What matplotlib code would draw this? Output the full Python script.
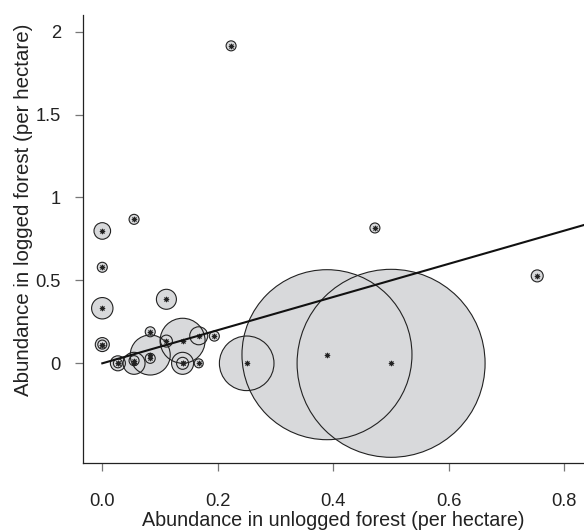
import matplotlib
matplotlib.use("Agg")
import matplotlib.pyplot as plt
import numpy as np

plt.rcParams['font.family'] = ['Liberation Sans', 'DejaVu Sans']

# Abundance in unlogged forest (x) and logged forest (y), per hectare
x_unlogged = [0.223, 0.472, 0.753, 0.0, 0.055, 0.0, 0.0, 0.111, 0.0, 0.0,
              0.083, 0.111, 0.139, 0.167, 0.194, 0.027, 0.027, 0.055, 0.055,
              0.083, 0.083, 0.139, 0.139, 0.167, 0.25, 0.389, 0.5]
y_logged = [1.914, 0.816, 0.527, 0.798, 0.868, 0.579, 0.332, 0.386, 0.113, 0.113,
            0.19, 0.134, 0.136, 0.166, 0.164, 0.0, 0.0, 0.016, 0.0,
            0.03, 0.05, 0.0, 0.0, 0.0, 0.0, 0.052, 0.0]
# bubble radius (pixels)
bubble_r = [5, 5, 6, 8.3, 5, 5, 10.7, 10, 7, 4.5,
            5, 6, 22.5, 9, 5, 7.5, 4.5, 5, 11,
            5, 20, 11, 6, 4.5, 27.3, 85, 94]

x_ticks = [0.0, 0.2, 0.4, 0.6, 0.8]
x_ticklabels = ["0.0", "0.2", "0.4", "0.6", "0.8"]
y_ticks = [0, 0.5, 1, 1.5, 2]
y_ticklabels = ["0", "0.5", "1", "1.5", "2"]

dpi = 100
fig = plt.figure(figsize=(5.84, 5.30), dpi=dpi)
ax = fig.add_axes([83/584, 67/530, 1 - 83/584, (463-15)/530])

sizes = [(2 * r * 72 / dpi) ** 2 for r in bubble_r]
order = np.argsort(bubble_r)[::-1]
xs = np.array(x_unlogged)[order]
ys = np.array(y_logged)[order]
ss = np.array(sizes)[order]

ax.scatter(xs, ys, s=ss, facecolor='#d8d9db', edgecolor='none', zorder=2)
ax.scatter(xs, ys, s=ss, facecolor='none', edgecolor='#222222', linewidths=0.8, zorder=3)
ax.scatter(x_unlogged, y_logged, s=11, marker=(8, 2, 0), color='#222222', linewidths=0.7, zorder=4)

# 1:1 line
ax.plot([0, 1.0], [0, 1.0], color='#111111', lw=1.5, zorder=5)

ax.set_xlim(-0.0334, 0.834)
ax.set_ylim(-0.601, 2.100)

for s in ['top', 'right']:
    ax.spines[s].set_visible(False)
for s in ['left', 'bottom']:
    ax.spines[s].set_color('#222222')
    ax.spines[s].set_linewidth(0.9)

ax.set_xticks(x_ticks)
ax.set_xticklabels(x_ticklabels)
ax.set_yticks(y_ticks)
ax.set_yticklabels(y_ticklabels)
ax.tick_params(direction='out', length=6, width=0.9, color='#777777',
               labelcolor='#222222', labelsize=13.2)
ax.tick_params(axis='x', pad=15.5)
ax.tick_params(axis='y', pad=10)

ax.set_xlabel("Abundance in unlogged forest (per hectare)", fontsize=14.2, color='#222222')
ax.set_ylabel("Abundance in logged forest (per hectare)", fontsize=14.8, color='#222222')
ax.xaxis.set_label_coords(0.5, -0.1075)
ax.yaxis.set_label_coords(-0.099, 0.565)

fig.savefig("out.png", dpi=dpi)
